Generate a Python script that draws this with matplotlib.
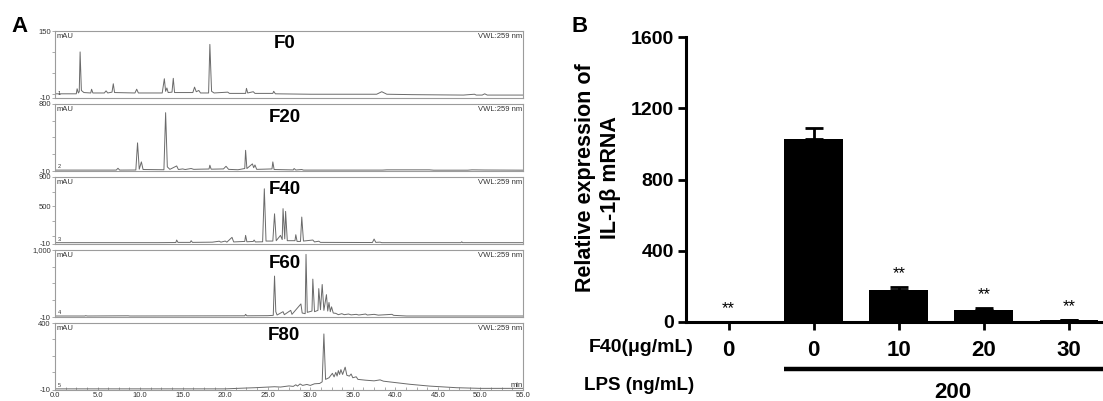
import numpy as np
import matplotlib
matplotlib.use("Agg")
import matplotlib.pyplot as plt
from matplotlib.ticker import FixedLocator, FixedFormatter
import matplotlib.transforms as mtransforms

plt.rcParams["font.family"] = ["Liberation Sans", "DejaVu Sans"]

# ---- Panel A: HPLC chromatograms (time in min, intensity in mAU) ----
f0_t = [0.0, 2.5, 2.6, 2.75, 2.85, 2.95, 3.1, 3.4, 4.2, 4.3, 4.45, 5.8, 6.0, 6.2,
        6.7, 6.85, 7.0, 9.4, 9.6, 9.8, 12.6, 12.85, 13.0, 13.15, 13.3, 13.75, 13.9,
        14.05, 16.2, 16.4, 16.6, 16.9, 17.1, 18.05, 18.2, 18.4, 18.7, 20.3, 20.5,
        22.4, 22.5, 22.65, 23.3, 23.5, 25.6, 25.7, 25.9, 30.0, 37.8, 38.4, 39.0,
        42.0, 48.0, 49.3, 49.5, 50.2, 50.5, 50.8, 55.0]
f0_y = [0, 0, 12, 2, 5, 100, 8, 3, 2, 11, 2, 2, 7, 2,
        4, 24, 3, 2, 11, 2, 2, 36, 6, 14, 3, 4, 37,
        3, 3, 16, 5, 8, 2, 2, 118, 6, 2, 4, 1,
        1, 13, 2, 5, 1, 1, 6, 0, -1, -1, 5, -1,
        -2, -3, -1, -3, -3, 0, -3, -3]

f20_t = [0, 7.2, 7.4, 7.6, 9.5, 9.7, 9.9, 10.15, 10.35, 12.8, 13.0, 13.2, 13.5,
         14.3, 14.5, 15.0, 15.3, 16.0, 16.3, 17.0, 18.1, 18.2, 18.35, 19.8, 20.1,
         20.4, 21.5, 22.3, 22.4, 22.55, 23.2, 23.35, 23.5, 23.7, 24.5, 25.5, 25.6,
         25.75, 28.0, 28.1, 28.3, 29.0, 29.2, 38.5, 39.0, 44.0, 44.5, 48.5, 49.0,
         50.5, 55.0]
f20_y = [1, 1, 23, 1, 2, 330, 12, 100, 8, 5, 695, 40, 10,
         51, 8, 15, 8, 20, 10, 12, 14, 60, 12, 15, 47,
         10, 5, 20, 240, 20, 76, 30, 63, 10, 12, 15, 100,
         8, 3, 20, 2, 8, 1, 1, 4, 4, 0, 0, 4,
         2, 0]

f40_t = [0, 12.0, 14.2, 14.3, 14.45, 15.9, 16.0, 16.15, 18.5, 19.3, 19.5, 20.0,
         20.2, 20.8, 21.0, 22.3, 22.4, 22.55, 23.3, 23.4, 23.55, 24.4, 24.6, 24.8,
         25.6, 25.8, 26.0, 26.5, 26.7, 26.8, 27.0, 27.1, 27.3, 28.2, 28.3, 28.45,
         28.85, 29.0, 29.2, 30.3, 30.5, 31.0, 31.2, 37.3, 37.5, 37.7, 38.2, 38.4,
         47.7, 47.8, 47.9, 55.0]
f40_y = [8, 8, 10, 44, 12, 12, 35, 12, 15, 28, 15, 30,
         15, 80, 18, 25, 107, 20, 25, 44, 18, 20, 740, 30,
         30, 400, 35, 107, 50, 470, 60, 433, 35, 35, 116, 25,
         25, 356, 30, 44, 18, 28, 12, 10, 57, 12, 15, 8,
         8, 20, 8, 8]

f60_t = [0, 3.5, 3.6, 3.8, 8.6, 8.8, 13.5, 22.3, 22.4, 22.55, 25.0, 25.65, 25.8,
         25.95, 26.1, 26.8, 26.95, 27.7, 27.85, 28.9, 29.05, 29.4, 29.5, 29.65,
         30.2, 30.3, 30.5, 30.9, 31.0, 31.2, 31.4, 31.6, 31.9, 32.05, 32.2, 32.35,
         32.5, 32.7, 33.0, 33.3, 33.7, 34.0, 34.5, 34.8, 35.4, 35.7, 36.5, 36.7,
         37.5, 38.0, 39.6, 39.8, 41.3, 55.0]
f60_y = [5, 5, 10, 5, 8, 5, 6, 8, 30, 8, 10, 15, 607,
         70, 20, 70, 25, 90, 30, 187, 50, 40, 934, 60,
         80, 561, 70, 90, 418, 100, 480, 90, 327, 80, 209, 70,
         143, 50, 45, 25, 40, 25, 35, 22, 30, 20, 35, 20,
         30, 18, 30, 15, 5, 5]

f80_t = [0, 20.0, 22.4, 23.5, 25.8, 26.5, 27.5, 28.0, 28.3, 28.5, 28.8, 29.1,
         29.6, 30.0, 30.5, 31.1, 31.4, 31.6, 31.8, 32.2, 32.6, 32.8, 33.0, 33.15,
         33.3, 33.45, 33.6, 33.8, 34.1, 34.3, 34.6, 34.8, 35.0, 35.4, 35.6, 36.5,
         37.5, 38.2, 38.6, 41.7, 44.0, 47.2, 50.0, 55.0]
f80_y = [-3, -3, 2, 4, 10, 8, 15, 12, 22, 14, 27, 18,
         24, 18, 28, 30, 40, 333, 55, 65, 92, 70, 98, 75,
         109, 85, 115, 85, 130, 80, 75, 88, 65, 71, 55, 50,
         46, 52, 44, 25, 14, 4, 0, 0]

fraction_names = ["F0", "F20", "F40", "F60", "F80"]
y_tops = [150, 800, 900, 1000, 400]
y_labeled = [[-10, 150], [-10, 800], [-10, 500, 900], [-10, 1000], [-10, 400]]
y_labels = [["-10", "150"], ["-10", "800"], ["-10", "500", "900"],
            ["-10", "1,000"], ["-10", "400"]]
y_minor = [[0, 50, 100], [200, 400, 600], [100, 300, 700], [250, 500, 750],
           [100, 200, 300]]
traces = [(f0_t, f0_y), (f20_t, f20_y), (f40_t, f40_y), (f60_t, f60_y),
          (f80_t, f80_y)]

# ---- Panel B: IL-1beta expression ----
f40_dose = ["0", "0", "10", "20", "30"]
il1b_mean = [0.5, 1026, 177, 68, 9]
il1b_err = [0, 64, 18, 9, 3]
signif = ["**", "", "**", "**", "**"]
lps_dose = "200"

W, H = 1103, 401
fig = plt.figure(figsize=(W / 100, H / 100), dpi=100)


def fx(px):
    return px / W


def fy(px):
    return 1 - px / H


grey = "#6a6a6a"
frame = "#9c9c9c"
left_px, right_px = 55, 523
panel_h = 67
tops_px = [31, 104, 177, 250, 323]

for i, (name, (t, y)) in enumerate(zip(fraction_names, traces)):
    top = tops_px[i]
    ax = fig.add_axes([fx(left_px), fy(top + panel_h), fx(right_px - left_px), panel_h / H])
    ax.plot(t, y, color=grey, lw=0.7)
    ax.set_xlim(0, 55)
    ax.set_ylim(-10, y_tops[i])
    for s in ax.spines.values():
        s.set_color(frame)
        s.set_linewidth(0.8)
    ax.yaxis.set_major_locator(FixedLocator(y_labeled[i]))
    ax.yaxis.set_major_formatter(FixedFormatter(y_labels[i]))
    ax.yaxis.set_minor_locator(FixedLocator(y_minor[i]))
    ax.tick_params(axis="y", which="both", direction="out", length=2.5, width=0.6,
                   color=frame, labelsize=5.5, pad=0.5, labelcolor="#333333")
    if i < 4:
        ax.set_xticks([])
    else:
        ax.set_xticks(np.arange(0, 55.1, 5))
        ax.set_xticklabels([f"{v:.1f}" for v in np.arange(0, 55.1, 5)])
        ax.set_xticks(np.arange(0, 55.1, 1.25), minor=True)
        ax.tick_params(axis="x", which="both", direction="in", length=2.5, width=0.6,
                       color=frame, labelsize=5.5, pad=1.5, labelcolor="#333333")
        ax.text(0.999, 0.02, "min", transform=ax.transAxes, ha="right", va="bottom",
                fontsize=5.5, color="#333333")
    ax.text(0.004, 0.97, "mAU", transform=ax.transAxes, ha="left", va="top",
            fontsize=5.5, color="#333333")
    ax.text(0.999, 0.97, "VWL:259 nm", transform=ax.transAxes, ha="right", va="top",
            fontsize=5.5, color="#333333")
    ax.text(0.006, 0.03, str(i + 1), transform=ax.transAxes, ha="left", va="bottom",
            fontsize=4, color="#333333")
    ax.text(0.49, 1 - 13 / panel_h, name, transform=ax.transAxes, ha="center",
            va="center", fontsize=13.5, fontweight="bold")

fig.text(fx(19), fy(26), "A", fontsize=16, fontweight="bold", ha="center", va="center")
fig.text(fx(580), fy(26), "B", fontsize=16, fontweight="bold", ha="center", va="center")

# ---- bar chart ----
axb_top, axb_bot = 37.3, 321.7
axb = fig.add_axes([fx(686), fy(axb_bot), fx(1103 - 686), (axb_bot - axb_top) / H])
pos = np.arange(len(il1b_mean))
axb.errorbar(pos, il1b_mean, yerr=[np.zeros(len(il1b_err)), il1b_err], fmt="none",
             ecolor="black", elinewidth=2, capsize=6.5, capthick=2, zorder=1)
axb.bar(pos, il1b_mean, width=0.69, color="black", zorder=2)
for p, m, e, s in zip(pos, il1b_mean, il1b_err, signif):
    if s:
        axb.text(p, m + e + 75, s, ha="center", va="center", fontsize=12)
axb.set_xlim(-0.5, 4.4)
axb.set_ylim(0, 1600)
axb.set_yticks([0, 400, 800, 1200, 1600])
axb.set_xticks(pos)
axb.set_xticklabels(f40_dose, fontsize=16, fontweight="bold")
for lab in axb.get_yticklabels():
    lab.set_fontweight("bold")
axb.tick_params(axis="y", labelsize=14, length=5.5, width=2, pad=3)
axb.tick_params(axis="x", length=5.5, width=2, pad=8)
for s in ["top", "right"]:
    axb.spines[s].set_visible(False)
for s in ["left", "bottom"]:
    axb.spines[s].set_linewidth(2.2)

fig.text(fx(598), fy(177.5), "Relative expression of\nIL-1\u03b2 mRNA", rotation=90,
         ha="center", va="center", fontsize=15.5, fontweight="bold",
         multialignment="center", linespacing=1.25)

fig.text(fx(694), fy(348), "F40(\u03bcg/mL)", ha="right", va="center",
         fontsize=14, fontweight="bold")
fig.text(fx(694), fy(386), "LPS (ng/mL)", ha="right", va="center",
         fontsize=13.5, fontweight="bold")

trans = mtransforms.blended_transform_factory(axb.transData, axb.transAxes)
lps_y = -(369 - axb_bot) / (axb_bot - axb_top)
axb.plot([1 - 0.345, 4.4], [lps_y, lps_y], color="black", lw=3.2,
         transform=trans, clip_on=False, solid_capstyle="butt")
txt_y = -(392 - axb_bot) / (axb_bot - axb_top)
axb.text(2.64, txt_y, lps_dose, transform=trans, ha="center", va="center",
         fontsize=16, fontweight="bold")

fig.savefig("out.png", dpi=100)
